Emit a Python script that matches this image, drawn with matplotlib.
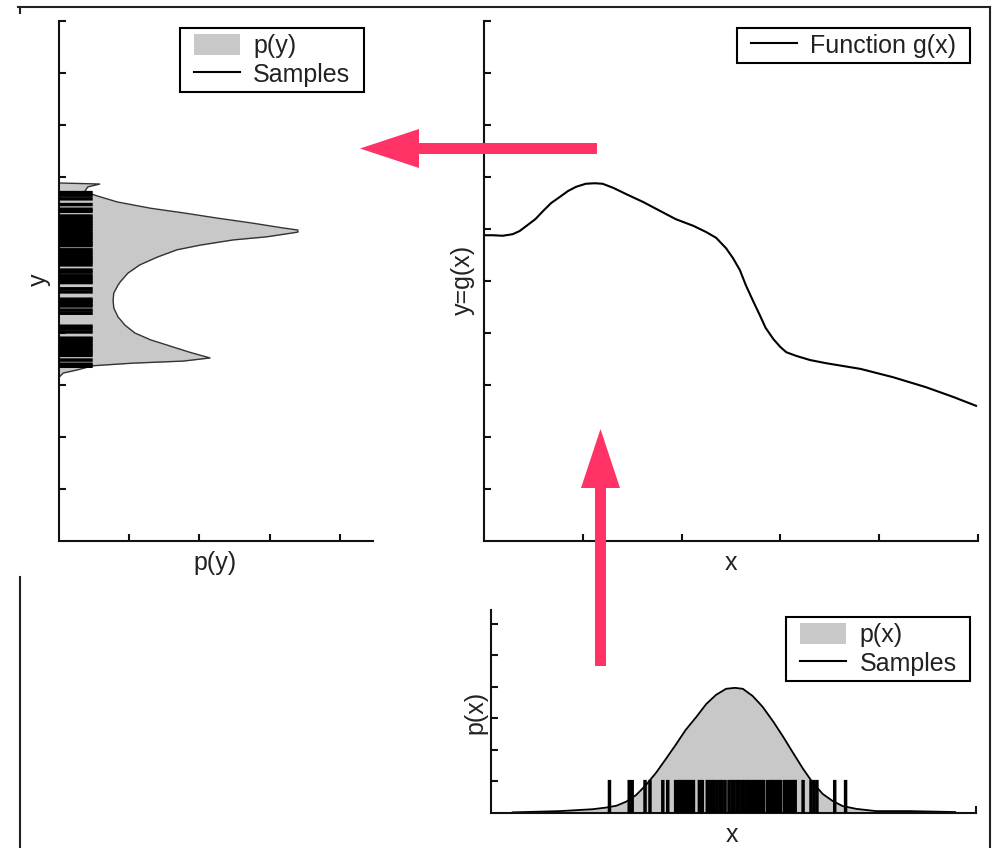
import matplotlib
matplotlib.use('Agg')
import matplotlib.pyplot as plt
from matplotlib.patches import Patch, FancyArrow
from matplotlib.lines import Line2D
from matplotlib.path import Path
from matplotlib.transforms import IdentityTransform

plt.rcParams['font.family'] = ['Liberation Sans', 'DejaVu Sans']

# ---------------- data ----------------
# transfer function g(x)
g_x = [0.00, 0.09, 0.19, 0.29, 0.36, 0.43, 0.52, 0.60, 0.68, 0.77, 0.85, 0.93,
       1.03, 1.12, 1.20, 1.31, 1.44, 1.61, 1.78, 1.94, 2.12, 2.25, 2.35, 2.45,
       2.52, 2.59, 2.65, 2.72, 2.79, 2.85, 2.93, 3.00, 3.06, 3.16, 3.30, 3.46,
       3.81, 4.14, 4.47, 4.75, 4.98]
g_y = [5.88, 5.88, 5.87, 5.90, 5.96, 6.06, 6.19, 6.35, 6.50, 6.62, 6.73, 6.81,
       6.87, 6.88, 6.87, 6.79, 6.67, 6.52, 6.35, 6.19, 6.06, 5.94, 5.83, 5.63,
       5.44, 5.21, 4.92, 4.63, 4.35, 4.10, 3.88, 3.73, 3.63, 3.56, 3.48, 3.42,
       3.31, 3.15, 2.96, 2.77, 2.60]

# input density p(x)
px_x = [0.29, 0.77, 1.10, 1.23, 1.34, 1.44, 1.54, 1.64, 1.74, 1.84, 1.94, 2.04,
        2.15, 2.25, 2.35, 2.45, 2.54, 2.62, 2.72, 2.82, 2.93, 3.03, 3.13, 3.23,
        3.33, 3.43, 3.53, 3.63, 3.77, 3.97, 4.31, 4.77]
px_y = [0.02, 0.06, 0.12, 0.17, 0.23, 0.36, 0.57, 0.89, 1.27, 1.71, 2.16, 2.63,
        3.05, 3.46, 3.75, 3.94, 3.97, 3.94, 3.71, 3.37, 2.89, 2.41, 1.90, 1.40,
        0.95, 0.60, 0.38, 0.22, 0.13, 0.06, 0.06, 0.03]

# output density p(y): density value and y
py_dens = [0.00, 0.58, 0.41, 0.37, 0.51, 0.83, 1.30, 1.77, 2.25, 2.72, 3.19, 3.40,
           3.40, 2.96, 2.48, 2.01, 1.68, 1.40, 1.15, 0.98, 0.87, 0.84, 0.78, 0.77,
           0.78, 0.84, 0.94, 1.08, 1.30, 1.58, 1.86, 2.15, 1.77, 1.05, 0.48, 0.26,
           0.06, 0.00]
py_y = [6.885, 6.865, 6.81, 6.73, 6.65, 6.52, 6.40, 6.31, 6.21, 6.12, 6.02, 5.98,
        5.94, 5.85, 5.79, 5.69, 5.60, 5.46, 5.31, 5.15, 4.98, 4.92, 4.77, 4.63,
        4.48, 4.31, 4.15, 4.00, 3.87, 3.75, 3.63, 3.52, 3.46, 3.42, 3.37, 3.29,
        3.23, 3.15]

# samples of x
x_samples = [1.27, 1.47, 1.50, 1.63, 1.68, 1.81, 1.86,
             1.94, 1.97, 1.99, 2.02, 2.04, 2.07, 2.09, 2.12,
             2.18, 2.21,
             2.26, 2.28, 2.31, 2.33, 2.36, 2.39, 2.41, 2.44,
             2.48, 2.51, 2.53, 2.56, 2.58, 2.61, 2.63, 2.66, 2.68, 2.71, 2.73,
             2.76, 2.78, 2.81, 2.83,
             2.87, 2.90, 2.92, 2.95, 2.98, 3.00,
             3.04, 3.06, 3.09, 3.11, 3.14, 3.15,
             3.23, 3.31, 3.34, 3.37, 3.55, 3.66]

# samples of y
y_samples = [6.70, 6.65, 6.58, 6.47, 6.38, 6.34,
             6.25, 6.20, 6.15, 6.11, 6.06, 6.01, 5.96, 5.91, 5.87, 5.82, 5.77,
             5.72, 5.68,
             5.60, 5.55, 5.50, 5.45, 5.40, 5.36, 5.31,
             5.21, 5.17,
             5.10, 5.05, 5.00, 4.97,
             4.85, 4.79,
             4.65, 4.61, 4.56, 4.52,
             4.44, 4.38,
             4.13, 4.08, 4.02,
             3.90, 3.86, 3.81, 3.76, 3.71, 3.66, 3.62, 3.57,
             3.48, 3.40, 3.36]

# ---------------- styling ----------------
W, H = 993, 848
GRAY = '#C8C8C8'
PINK = '#FF3366'
TXT = '#222222'
FS = 18
RUG_LW = 2.5

fig = plt.figure(figsize=(W / 100, H / 100), dpi=100)


def frac(l, t, r, b):
    return [l / W, 1 - b / H, (r - l) / W, (b - t) / H]


ax_py = fig.add_axes(frac(59, 21, 373, 541))
ax_g = fig.add_axes(frac(484, 21, 978, 541))
ax_px = fig.add_axes(frac(491, 610, 976, 813))

for ax in (ax_py, ax_g, ax_px):
    ax.patch.set_alpha(0)
    for s in ('top', 'right'):
        ax.spines[s].set_visible(False)
    for s in ('left', 'bottom'):
        ax.spines[s].set_linewidth(1.5)
        ax.spines[s].set_color('#111111')
    ax.tick_params(direction='in', length=5, width=1.5, color='#111111',
                   labelleft=False, labelbottom=False)

DX = 8  # extra horizontal padding of legend frames (pixels)


def wide_box(x0, y0, width, height, mutation_size):
    return Path([(x0 - DX, y0), (x0 + width + DX, y0), (x0 + width + DX, y0 + height),
                 (x0 - DX, y0 + height), (x0 - DX, y0)], closed=True)


leg_kw = dict(fontsize=FS, frameon=True, fancybox=False, framealpha=1, edgecolor='black',
              borderpad=0.22, handlelength=1.84, handleheight=0.95, handletextpad=0.55,
              labelspacing=0.18, borderaxespad=0, labelcolor=TXT)


def finish_legend(leg):
    fr = leg.get_frame()
    fr.set_linewidth(1.5)
    fr.set_boxstyle(wide_box)


# ---- p(y) panel ----
ax_py.fill_betweenx(py_y, 0, py_dens, color=GRAY, lw=0, zorder=1)
ax_py.plot(py_dens, py_y, color='#333333', lw=1.0, zorder=2)
ax_py.hlines(y_samples, 0, 0.48, color='black', lw=RUG_LW, zorder=3, snap=False)
ax_py.set_xlim(0, 4.47)
ax_py.set_ylim(0, 10)
ax_py.set_xticks([1, 2, 3, 4])
ax_py.set_yticks(range(1, 11))
ax_py.set_xlabel('p(y)', fontsize=FS, color=TXT, va='center')
ax_py.set_ylabel('y', fontsize=FS, color=TXT, va='center')
ax_py.xaxis.set_label_coords(0.497, -0.042)
ax_py.yaxis.set_label_coords(-0.065, 0.502)
leg1 = ax_py.legend([Patch(facecolor=GRAY, edgecolor='none'), Line2D([], [], color='black', lw=1.5)],
                    ['p(y)', 'Samples'], loc='upper left',
                    bbox_to_anchor=((180 + DX) / W, 1 - 28 / H), bbox_transform=fig.transFigure,
                    **leg_kw)
finish_legend(leg1)

# ---- g(x) panel ----
ax_g.plot(g_x, g_y, color='black', lw=1.5, label='Function g(x)')
ax_g.set_xlim(0, 5)
ax_g.set_ylim(0, 10)
ax_g.set_xticks([1, 2, 3, 4, 5])
ax_g.set_yticks(range(1, 11))
ax_g.set_xlabel('x', fontsize=FS, color=TXT, va='center')
ax_g.set_ylabel('y=g(x)', fontsize=FS, color=TXT, va='center')
ax_g.xaxis.set_label_coords(0.5, -0.042)
ax_g.yaxis.set_label_coords(-0.0425, 0.502)
leg2 = ax_g.legend(loc='upper right', bbox_to_anchor=((970 - DX) / W, 1 - 28 / H),
                   bbox_transform=fig.transFigure, **leg_kw)
finish_legend(leg2)

# ---- p(x) panel ----
ax_px.fill_between(px_x, 0, px_y, color=GRAY, lw=0, zorder=1)
ax_px.plot(px_x, px_y, color='black', lw=1.3, zorder=2)
ax_px.vlines(x_samples, 0, 1.05, color='black', lw=RUG_LW, zorder=3, snap=False)
ax_px.set_xlim(0.071, 4.98)
ax_px.set_ylim(0, 6.44)
ax_px.set_xticks([4.98])
ax_px.set_yticks(range(1, 7))
ax_px.set_xlabel('x', fontsize=FS, color=TXT, va='center')
ax_px.set_ylabel('p(x)', fontsize=FS, color=TXT, va='center')
ax_px.xaxis.set_label_coords(0.497, -0.108)
ax_px.yaxis.set_label_coords(-0.033, 0.4975)
leg3 = ax_px.legend([Patch(facecolor=GRAY, edgecolor='none'), Line2D([], [], color='black', lw=1.5)],
                    ['p(x)', 'Samples'], loc='upper right',
                    bbox_to_anchor=((970 - DX) / W, 1 - 617 / H), bbox_transform=fig.transFigure,
                    **leg_kw)
finish_legend(leg3)

# ---- figure frame lines (pixel coordinates, origin bottom-left) ----
idt = IdentityTransform()
frame_kw = dict(color='#222222', lw=1.5, transform=idt)
fig.add_artist(Line2D([18, 990], [H - 7, H - 7], **frame_kw))
fig.add_artist(Line2D([990, 990], [H - 7, 0], **frame_kw))
fig.add_artist(Line2D([20, 20], [H - 7, H - 13], **frame_kw))
fig.add_artist(Line2D([20, 20], [H - 577, 0], **frame_kw))

# ---- pink arrows ----
arrow_kw = dict(width=11, head_width=39, head_length=59, length_includes_head=True,
                color=PINK, lw=0, transform=idt)
fig.add_artist(FancyArrow(597, H - 148.5, 360 - 597, 0, **arrow_kw))
fig.add_artist(FancyArrow(600.5, H - 666, 0, 666 - 429, **arrow_kw))

fig.savefig('out.png', dpi=100)
